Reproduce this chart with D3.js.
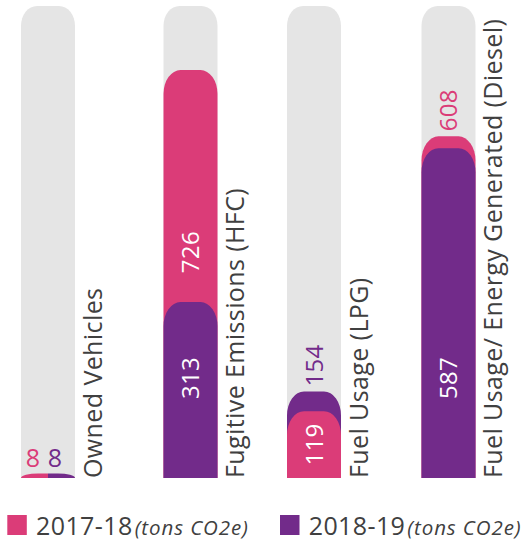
<!DOCTYPE html>
<html>
<head>
<meta charset="utf-8">
<script src="https://cdn.jsdelivr.net/npm/d3@7/dist/d3.min.js"></script>
<style>
  html, body { margin: 0; padding: 0; background: #fff; }
  svg { display: block; font-family: "Open Sans", "Noto Sans", sans-serif; }
</style>
</head>
<body>
<svg id="chart" width="523" height="543"></svg>
<script>
// Scope 1 emissions by source, two reporting years (tons CO2e)
const categories = [
  "Owned Vehicles",
  "Fugitive Emissions (HFC)",
  "Fuel Usage (LPG)",
  "Fuel Usage/ Energy Generated (Diesel)"
];
const values2017 = [8, 726, 119, 608];
const values2018 = [8, 313, 154, 587];
const seriesNames = ["2017-18", "2018-19"];
const unitLabel = "(tons CO2e)";
const valueMax = 840;

const PINK = "#DB3C78";
const PURPLE = "#722B8A";
const TRACK = "#E5E5E5";
const TEXT = "#404040";

const svg = d3.select("#chart");

// Layout
const baseY = 478, topY = 6, barW = 54;
const x = d3.scaleOrdinal().domain(categories).range([21, 163.5, 287, 421.5]);
const y = d3.scaleLinear().domain([0, valueMax]).range([baseY, topY]);

// Bar outline with rounded top corners (elliptical) and a square foot
function topRounded(x0, y0, w, h, rx, ry, roundL = true, roundR = true) {
  ry = Math.min(ry, h);
  let s = `M${x0},${y0 + h}`;
  if (roundL) s += `L${x0},${y0 + ry}A${rx},${ry} 0 0 1 ${x0 + rx},${y0}`;
  else s += `L${x0},${y0}`;
  if (roundR) s += `L${x0 + w - rx},${y0}A${rx},${ry} 0 0 1 ${x0 + w},${y0 + ry}`;
  else s += `L${x0 + w},${y0}`;
  s += `L${x0 + w},${y0 + h}Z`;
  return s;
}

const rows = categories.map((c, i) => ({
  cat: c,
  a: values2017[i],
  b: values2018[i]
}));

const g = svg.append("g");

rows.forEach(d => {
  const x0 = x(d.cat);
  const cx = x0 + barW / 2;
  const cg = g.append("g");

  // background track
  cg.append("path")
    .attr("d", topRounded(x0, topY, barW, baseY - topY, 16, 20))
    .attr("fill", TRACK);

  const fs = 24;
  const rotLabel = (px, py, txt, color, anchor) =>
    cg.append("text")
      .attr("transform", `translate(${px},${py}) rotate(-90)`)
      .attr("text-anchor", anchor)
      .attr("fill", color)
      .attr("font-size", fs)
      .attr("letter-spacing", 0.3)
      .text(txt);

  if (d.a === d.b) {
    // equal values: each year takes half the track width
    const hh = baseY - y(d.a);
    const half = barW / 2;
    cg.append("path").attr("d", topRounded(x0, y(d.a), half, hh, 17, 22, true, false)).attr("fill", PINK);
    cg.append("path").attr("d", topRounded(x0 + half, y(d.b), half, hh, 17, 22, false, true)).attr("fill", PURPLE);
    const mid = cx - 4;
    [[d.a, PINK, mid - 11], [d.b, PURPLE, mid + 11]].forEach(([v, col, lx]) => {
      cg.append("text")
        .attr("x", lx).attr("y", y(v) - 7)
        .attr("text-anchor", "middle")
        .attr("fill", col)
        .attr("font-size", 25)
        .text(v);
    });
  } else {
    const back = d.a > d.b ? { v: d.a, c: PINK } : { v: d.b, c: PURPLE };
    const front = d.a > d.b ? { v: d.b, c: PURPLE } : { v: d.a, c: PINK };
    const backTop = y(back.v), frontTop = y(front.v);
    cg.append("path").attr("d", topRounded(x0, backTop, barW, baseY - backTop, 17, 24)).attr("fill", back.c);
    cg.append("path").attr("d", topRounded(x0, frontTop, barW, baseY - frontTop, 17, 24)).attr("fill", front.c);

    const bx = cx + fs * 0.36;
    // value of the front bar, inside it
    const frontH = baseY - frontTop;
    const fMid = frontH > 150 ? baseY - 100 : (frontTop + baseY) / 2;
    rotLabel(bx, fMid, front.v, "#fff", "middle");
    // value of the back bar: inside its visible part when there is room, otherwise above it
    if (frontTop - backTop > 60) {
      rotLabel(bx, frontTop - 50, back.v, "#fff", "middle");
    } else {
      rotLabel(bx, backTop - 5, back.v, back.c, "start");
    }
  }

  // category name along the right side of the track
  cg.append("text")
    .attr("transform", `translate(${x0 + barW + 26.7},${baseY}) rotate(-90)`)
    .attr("text-anchor", "start")
    .attr("fill", TEXT)
    .attr("font-size", 25)
    .attr("letter-spacing", 0.4)
    .text(d.cat);
});

// Legend
const legend = svg.append("g");
const legendItems = [
  { name: seriesNames[0], color: PINK, x: 7.3 },
  { name: seriesNames[1], color: PURPLE, x: 280 }
];
legendItems.forEach(it => {
  legend.append("rect")
    .attr("x", it.x).attr("y", 515)
    .attr("width", 19.5).attr("height", 20)
    .attr("fill", it.color);
  const t = legend.append("text")
    .attr("x", it.x + 28.7).attr("y", 534.5)
    .attr("fill", TEXT)
    .attr("font-size", 25)
    .attr("letter-spacing", 0.4);
  t.append("tspan").text(it.name);
  t.append("tspan")
    .attr("dx", 2)
    .attr("font-style", "italic")
    .attr("font-size", 20.5)
    .attr("letter-spacing", 0.9)
    .text(unitLabel);
});
</script>
</body>
</html>
